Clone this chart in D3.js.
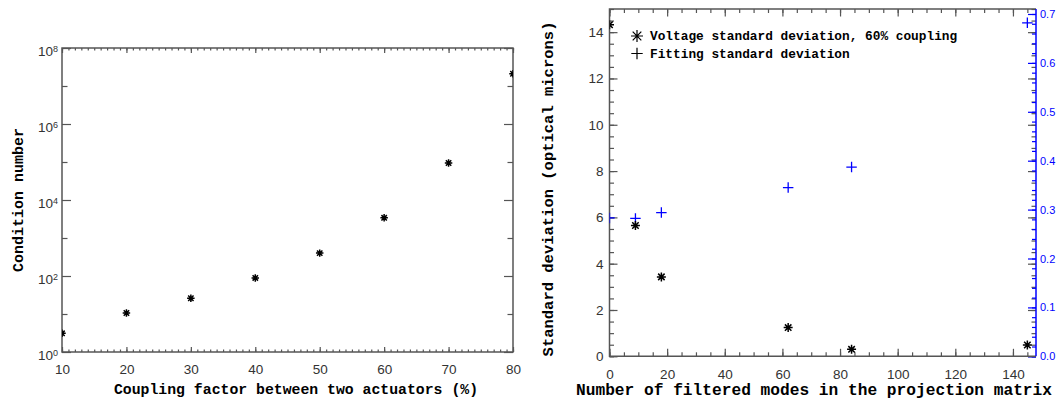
<!DOCTYPE html>
<html>
<head>
<meta charset="utf-8">
<script src="https://cdn.jsdelivr.net/npm/d3@7"></script>
<style>
body { margin: 0; background: #fff; }
</style>
</head>
<body>
<div id="container"></div>
<script>
let w = 1056;
let h = 399;

// left chart: condition number vs coupling
let couplingPct = [10, 20, 30, 40, 50, 60, 70, 80];
let conditionNumber = [3.1, 10.6, 26, 89, 400, 3400, 94000, 2.1e7];
let couplingTicks = [10, 20, 30, 40, 50, 60, 70, 80];
let conditionTicks = [1, 1e2, 1e4, 1e6, 1e8];

// right chart: std deviation vs filtered modes
let filteredModes = [0, 9, 18, 62, 84, 145];
let voltageStd = [14.32, 5.65, 3.43, 1.24, 0.30, 0.49];
let fittingStd = [0.283, 0.282, 0.294, 0.345, 0.387, 0.682];
let modeTicks = [0, 20, 40, 60, 80, 100, 120, 140];
let stdTicks = [0, 2, 4, 6, 8, 10, 12, 14];
let fitTicks = [0, 0.1, 0.2, 0.3, 0.4, 0.5, 0.6, 0.7];
let legendLabels = ["Voltage standard deviation, 60% coupling", "Fitting standard deviation"];

let axisGray = "#555";
let labelGray = "#333";
let blue = "#0000ff";

let viz = d3.select("#container").append("svg")
  .attr("width", w)
  .attr("height", h)
  .style("display", "block")
  .style("background", "#fff");

// IDL style asterisk (plus + x)
let asterisk = {
  draw: function(ctx, size) {
    let r = Math.sqrt(size) / 2, d = r * 0.72;
    ctx.moveTo(-r, 0); ctx.lineTo(r, 0);
    ctx.moveTo(0, -r); ctx.lineTo(0, r);
    ctx.moveTo(-d, -d); ctx.lineTo(d, d);
    ctx.moveTo(-d, d); ctx.lineTo(d, -d);
  }
};
let plusSym = {
  draw: function(ctx, size) {
    let r = Math.sqrt(size) / 2;
    ctx.moveTo(-r, 0); ctx.lineTo(r, 0);
    ctx.moveTo(0, -r); ctx.lineTo(0, r);
  }
};

// inward ticks on one side of a frame, no labels
function ticks(g, axisFn, scale, values, len, color) {
  let a = axisFn(scale).tickValues(values).tickSize(-len).tickFormat("");
  let grp = g.append("g").call(a);
  grp.select(".domain").remove();
  grp.selectAll("line").attr("stroke", color).attr("stroke-width", 1.2);
  return grp;
}

function range(a, b, step) {
  let out = [];
  for (let v = a; v <= b + 1e-9; v += step) out.push(+v.toFixed(6));
  return out;
}

/* ---------------- left panel ---------------- */
let L = { left: 62, right: 513, top: 48, bottom: 352 };
let xL = d3.scaleLinear().domain([10, 80]).range([L.left, L.right]);
let yL = d3.scaleLog().domain([1, 1e8]).range([L.bottom, L.top]);

let left = viz.append("g").classed("leftPanel", true);

let xMinorL = range(10, 80, 1);
let yMinorL = [1e1, 1e3, 1e5, 1e7];

// bottom
let bL = left.append("g").attr("transform", "translate(0," + L.bottom + ")");
ticks(bL, d3.axisBottom, xL, xMinorL, 2.5, axisGray);
ticks(bL, d3.axisBottom, xL, couplingTicks, 5, axisGray);
let bLab = bL.append("g").call(d3.axisBottom(xL).tickValues(couplingTicks).tickSize(0).tickPadding(12));
bLab.select(".domain").remove();
bLab.selectAll("text").attr("font-family", "Liberation Sans, Arial, sans-serif").attr("font-size", 13.5).attr("fill", labelGray);
// top
let tL = left.append("g").attr("transform", "translate(0," + L.top + ")");
ticks(tL, d3.axisTop, xL, xMinorL, 2.5, axisGray);
ticks(tL, d3.axisTop, xL, couplingTicks, 5, axisGray);
// left
let lL = left.append("g").attr("transform", "translate(" + L.left + ",0)");
ticks(lL, d3.axisLeft, yL, yMinorL, 5.5, axisGray);
ticks(lL, d3.axisLeft, yL, conditionTicks, 9, axisGray);
let lLab = lL.append("g").call(d3.axisLeft(yL).tickValues(conditionTicks).tickSize(0).tickPadding(4).tickFormat(""));
lLab.select(".domain").remove();
lLab.selectAll("text")
  .attr("font-family", "Liberation Sans, Arial, sans-serif")
  .attr("font-size", 13.5)
  .attr("fill", labelGray)
  .each(function(d) {
    let t = d3.select(this);
    t.append("tspan").text("10");
    t.append("tspan").attr("dy", "-0.45em").attr("font-size", 9).text(Math.round(Math.log10(d)));
  })
  .attr("dy", "0.55em");
// right
let rL = left.append("g").attr("transform", "translate(" + L.right + ",0)");
ticks(rL, d3.axisRight, yL, yMinorL, 5.5, axisGray);
ticks(rL, d3.axisRight, yL, conditionTicks, 9, axisGray);

left.append("rect")
  .attr("x", L.left).attr("y", L.top)
  .attr("width", L.right - L.left).attr("height", L.bottom - L.top)
  .attr("fill", "none").attr("stroke", axisGray).attr("stroke-width", 1.5);

left.append("defs").append("clipPath").attr("id", "clipL")
  .append("rect").attr("x", L.left).attr("y", L.top)
  .attr("width", L.right - L.left).attr("height", L.bottom - L.top);

let ptsL = couplingPct.map((c, i) => ({ x: c, y: conditionNumber[i] }));
left.append("g").attr("clip-path", "url(#clipL)")
  .selectAll("path").data(ptsL).enter().append("path")
  .attr("d", d3.symbol().type(asterisk).size(56))
  .attr("transform", d => "translate(" + xL(d.x) + "," + yL(d.y) + ")")
  .attr("stroke", "#000").attr("stroke-width", 1.5).attr("fill", "none");

left.append("text")
  .attr("transform", "translate(18,200) rotate(-90)")
  .attr("text-anchor", "middle").attr("dy", "0.35em")
  .attr("font-family", "Liberation Mono, Courier New, monospace")
  .attr("font-weight", "bold").attr("font-size", 15)
  .text("Condition number");
left.append("text")
  .attr("x", 296).attr("y", 394)
  .attr("text-anchor", "middle")
  .attr("font-family", "Liberation Mono, Courier New, monospace")
  .attr("font-weight", "bold").attr("font-size", 14.8)
  .text("Coupling factor between two actuators (%)");

/* ---------------- right panel ---------------- */
let R = { left: 609.5, right: 1036, top: 9, bottom: 356.3 };
let xR = d3.scaleLinear().domain([0, 148]).range([R.left, R.right]);
let yR = d3.scaleLinear().domain([0, 15]).range([R.bottom, R.top]);
let yR2 = d3.scaleLinear().domain([0, 0.7102]).range([R.bottom, R.top]);

let right = viz.append("g").classed("rightPanel", true);

let xMinorR = range(0, 145, 5);
let yMinorR = range(0, 15, 0.5);
let y2Minor = range(0, 0.70, 0.02);

// bottom
let bR = right.append("g").attr("transform", "translate(0," + R.bottom + ")");
ticks(bR, d3.axisBottom, xR, xMinorR, 4, axisGray);
ticks(bR, d3.axisBottom, xR, modeTicks, 7.5, axisGray);
let bRLab = bR.append("g").call(d3.axisBottom(xR).tickValues(modeTicks).tickSize(0).tickPadding(13));
bRLab.select(".domain").remove();
bRLab.selectAll("text").attr("font-family", "Liberation Sans, Arial, sans-serif").attr("font-size", 13.5).attr("fill", labelGray);
// top
let tR = right.append("g").attr("transform", "translate(0," + R.top + ")");
ticks(tR, d3.axisTop, xR, xMinorR, 4, axisGray);
ticks(tR, d3.axisTop, xR, modeTicks, 7.5, axisGray);
// left
let lR = right.append("g").attr("transform", "translate(" + R.left + ",0)");
ticks(lR, d3.axisLeft, yR, yMinorR, 4.5, axisGray);
ticks(lR, d3.axisLeft, yR, stdTicks, 8, axisGray);
let lRLab = lR.append("g").call(d3.axisLeft(yR).tickValues(stdTicks).tickSize(0).tickPadding(6));
lRLab.select(".domain").remove();
lRLab.selectAll("text").attr("font-family", "Liberation Sans, Arial, sans-serif").attr("font-size", 13.5).attr("fill", labelGray);
// right: mirror of left axis (gray) and the blue fitting axis
let rR = right.append("g").attr("transform", "translate(" + R.right + ",0)");
ticks(rR, d3.axisRight, yR, yMinorR, 4.5, axisGray);
ticks(rR, d3.axisRight, yR, stdTicks, 8, axisGray);
ticks(rR, d3.axisRight, yR2, y2Minor, 4, blue);
ticks(rR, d3.axisRight, yR2, fitTicks, 8, blue);
let rRLab = rR.append("g").call(d3.axisRight(yR2).tickValues(fitTicks).tickSize(0).tickPadding(4).tickFormat(d3.format(".1f")));
rRLab.select(".domain").remove();
rRLab.selectAll("text").attr("font-family", "Liberation Sans, Arial, sans-serif").attr("font-size", 11).attr("fill", blue);

right.append("path")
  .attr("d", "M" + R.right + "," + R.top + "H" + R.left + "V" + R.bottom + "H" + R.right)
  .attr("fill", "none").attr("stroke", axisGray).attr("stroke-width", 1.5);
right.append("line")
  .attr("x1", R.right).attr("x2", R.right).attr("y1", R.top).attr("y2", R.bottom)
  .attr("stroke", blue).attr("stroke-width", 1.5);

right.append("defs").append("clipPath").attr("id", "clipR")
  .append("rect").attr("x", R.left).attr("y", R.top)
  .attr("width", R.right - R.left).attr("height", R.bottom - R.top);

let dataR = right.append("g").attr("clip-path", "url(#clipR)");
dataR.selectAll("path.fit").data(filteredModes.map((m, i) => ({ x: m, y: fittingStd[i] })))
  .enter().append("path").classed("fit", true)
  .attr("d", d3.symbol().type(plusSym).size(110))
  .attr("transform", d => "translate(" + xR(d.x) + "," + yR2(d.y) + ")")
  .attr("stroke", blue).attr("stroke-width", 1.3).attr("fill", "none");
dataR.selectAll("path.volt").data(filteredModes.map((m, i) => ({ x: m, y: voltageStd[i] })))
  .enter().append("path").classed("volt", true)
  .attr("d", d3.symbol().type(asterisk).size(81))
  .attr("transform", d => "translate(" + xR(d.x) + "," + yR(d.y) + ")")
  .attr("stroke", "#000").attr("stroke-width", 1.5).attr("fill", "none");

// legend
let legend = right.append("g").classed("legend", true);
let legendSyms = [asterisk, plusSym];
legendLabels.forEach(function(lab, i) {
  let y = 36 + i * 17.5;
  legend.append("path")
    .attr("d", d3.symbol().type(legendSyms[i]).size(i == 0 ? 144 : 130))
    .attr("transform", "translate(637," + y + ")")
    .attr("stroke", "#000").attr("stroke-width", 1.2).attr("fill", "none");
  legend.append("text")
    .attr("x", 650).attr("y", y).attr("dy", "0.35em")
    .attr("font-family", "Liberation Mono, Courier New, monospace")
    .attr("font-weight", "bold").attr("font-size", 12.8)
    .text(lab);
});

right.append("text")
  .attr("transform", "translate(548,189) rotate(-90)")
  .attr("text-anchor", "middle").attr("dy", "0.35em")
  .attr("font-family", "Liberation Mono, Courier New, monospace")
  .attr("font-weight", "bold").attr("font-size", 15.5)
  .text("Standard deviation (optical microns)");
right.append("text")
  .attr("x", 814).attr("y", 395)
  .attr("text-anchor", "middle")
  .attr("font-family", "Liberation Mono, Courier New, monospace")
  .attr("font-weight", "bold").attr("font-size", 16.2)
  .text("Number of filtered modes in the projection matrix");
</script>
</body>
</html>
